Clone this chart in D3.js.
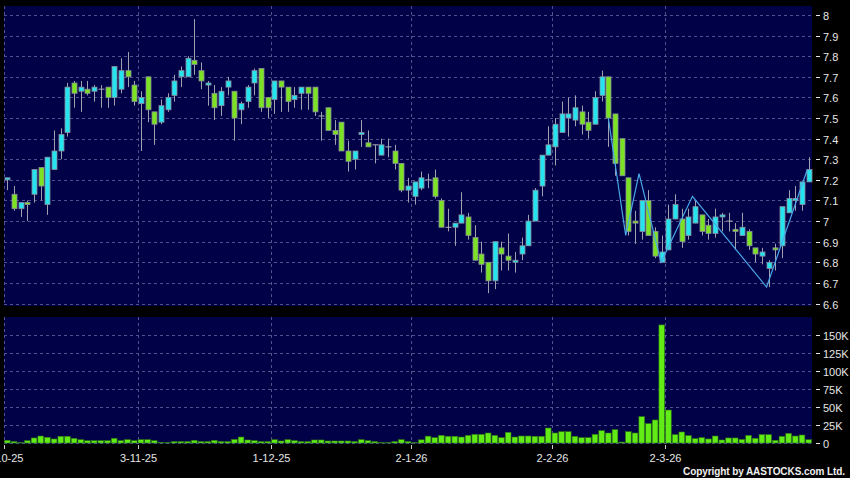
<!DOCTYPE html>
<html>
<head>
<meta charset="utf-8">
<script src="https://cdnjs.cloudflare.com/ajax/libs/d3/7.8.5/d3.min.js"></script>
<style>
  body { margin: 0; background: #000; }
  svg { display: block; }
</style>
</head>
<body>
<svg id="chart" width="850" height="478"></svg>
<script>
// daily candles, index 0 = first trading day shown
const opens = [7.20,7.13,7.06,7.09,7.13,7.26,7.08,7.25,7.34,7.43, 7.67,7.63,7.64,7.63,7.64,7.65,7.60,7.64,7.73,7.66,
  7.57,7.70,7.53,7.48,7.54,7.61,7.70,7.70,7.78,7.73, 7.66,7.62,7.56,7.65,7.63,7.54,7.58,7.67,7.74,7.60,
  7.59,7.68,7.65,7.59,7.62,7.65,7.65,7.51,7.55,7.44, 7.48,7.34,7.30,7.42,7.38,7.37,7.32,7.36,7.34,7.28,
  7.15,7.12,7.16,7.20,7.21,7.10,6.97,6.97,6.99,7.02, 6.92,6.84,6.80,6.71,6.87,6.83,6.80,6.84,6.88,7.00,
  7.17,7.32,7.36,7.43,7.50,7.49,7.53,7.48,7.47,7.61, 7.70,7.52,7.40,7.21,7.00,6.95,7.10,6.95,6.80,6.86,
  7.01,7.01,6.93,6.99,7.03,6.98,6.94,7.02,7.00,6.96, 6.93,6.95,6.87,6.83,6.77,6.87,6.88,7.04,7.10,7.08,
  7.19]
const highs = [7.21,7.17,7.09,7.10,7.25,7.26,7.31,7.44,7.45,7.67, 7.68,7.68,7.68,7.66,7.66,7.65,7.75,7.79,7.82,7.68,
  7.63,7.70,7.53,7.59,7.62,7.71,7.75,7.80,7.98,7.77, 7.68,7.66,7.65,7.70,7.63,7.58,7.66,7.74,7.74,7.60,
  7.68,7.68,7.65,7.65,7.65,7.65,7.65,7.53,7.55,7.49, 7.48,7.39,7.34,7.49,7.44,7.37,7.40,7.40,7.37,7.28,
  7.21,7.19,7.24,7.23,7.25,7.11,7.06,6.99,7.14,7.04, 6.98,6.90,6.80,6.90,6.90,6.94,6.85,6.92,7.03,7.16,
  7.32,7.46,7.50,7.58,7.60,7.61,7.56,7.53,7.63,7.73, 7.70,7.52,7.40,7.21,7.05,7.10,7.15,6.97,6.93,7.08,
  7.13,7.06,7.06,7.10,7.03,7.01,7.06,7.04,7.04,6.99, 7.04,6.96,6.87,6.87,6.81,6.89,7.07,7.15,7.17,7.19,
  7.31]
const lows = [7.15,7.05,7.02,7.00,7.09,7.10,7.03,7.25,7.30,7.41, 7.55,7.53,7.61,7.58,7.55,7.55,7.56,7.62,7.65,7.56,
  7.34,7.48,7.37,7.47,7.53,7.58,7.65,7.70,7.71,7.64, 7.56,7.49,7.51,7.61,7.39,7.47,7.55,7.61,7.53,7.50,
  7.52,7.53,7.53,7.55,7.54,7.54,7.51,7.39,7.44,7.37, 7.34,7.24,7.25,7.36,7.36,7.28,7.32,7.31,7.25,7.14,
  7.09,7.08,7.15,7.16,7.11,6.97,6.95,6.88,6.99,6.91, 6.81,6.75,6.65,6.67,6.76,6.76,6.75,6.81,6.88,7.00,
  7.12,7.32,7.27,7.43,7.41,7.46,7.42,7.40,7.47,7.58, 7.36,7.22,7.22,6.93,6.89,6.91,6.93,6.82,6.80,6.86,
  7.01,6.87,6.91,6.99,6.93,6.91,6.92,6.95,6.95,6.86, 6.93,6.86,6.80,6.79,6.68,6.76,6.82,7.04,7.05,7.05,
  7.19]
const closes = [7.21,7.06,7.09,7.08,7.25,7.17,7.31,7.34,7.42,7.65, 7.62,7.65,7.62,7.65,7.64,7.60,7.75,7.73,7.70,7.58,
  7.60,7.54,7.47,7.56,7.60,7.68,7.73,7.79,7.76,7.68, 7.67,7.55,7.63,7.68,7.50,7.57,7.65,7.73,7.55,7.55,
  7.68,7.65,7.58,7.61,7.65,7.62,7.53,7.51,7.44,7.42, 7.34,7.29,7.34,7.43,7.36,7.37,7.37,7.36,7.28,7.15,
  7.17,7.19,7.21,7.20,7.12,6.97,6.97,6.99,7.03,6.93, 6.81,6.79,6.71,6.90,6.84,6.81,6.81,6.88,7.00,7.15,
  7.32,7.37,7.47,7.52,7.52,7.55,7.47,7.44,7.60,7.70, 7.50,7.28,7.22,6.95,6.99,7.10,6.93,6.83,6.85,7.01,
  7.08,6.90,7.02,7.07,6.95,6.94,7.02,7.03,7.00,6.95, 6.97,6.88,6.84,6.85,6.80,6.86,7.07,7.11,7.11,7.19,
  7.25]
// volume in thousands
const volumes = [3.7,2,0.5,3.2,7,9.7,7.9,5.6,9.3,9.3, 6.5,4.6,3.2,3.2,3.2,3.2,6.5,3.2,4.6,3.2,
  4.6,4.6,3.2,1,0.5,2,2,2,3.7,2, 2,3.7,2,2,5,8.3,4.2,3.2,2,2,
  4.6,2.8,4.6,3.2,2,2,4.2,4.2,2.8,2.8, 2.8,2.8,2,4.6,3.2,2,0.5,0.5,2,4.6,
  2,0.5,4.4,9.5,7.4,10.6,9.3,9.3,8.3,10.6, 12,12,13.9,10.6,7.4,14.8,8.3,9.7,9.7,9.3,
  9.3,20.8,13.9,15.7,15.7,9.3,7.4,7.4,12,17.1, 13.9,18.5,1.4,15.7,13.9,36.6,26.9,32,164,45.8,
  11.6,15.3,10.2,6,7.4,5.6,9.7,4.2,7,7, 5,10.6,6.5,11.6,11.6,3.7,9.3,13.4,9.7,11.1,
  4.6]

const dateLabels = ["2-10-25", "3-11-25", "1-12-25", "2-1-26", "2-2-26", "2-3-26"]
const dateIdx = [0, 20, 40, 61, 82, 99]
const priceTicks = [6.6, 6.7, 6.8, 6.9, 7, 7.1, 7.2, 7.3, 7.4, 7.5, 7.6, 7.7, 7.8, 7.9, 8]
const volTicks = [0, 25, 50, 75, 100, 125, 150]
// thin blue zig-zag line (candle index, price)
const zigIdx = [90, 92.6, 94.6, 97.9, 102.6, 113.7, 119.8]
const zigVal = [7.50, 6.93, 7.23, 6.80, 7.12, 6.68, 7.25]

const UP = "#25e3ef", DOWN = "#7be324", BG = "#010148", GRID = "#50508a"
const svg = d3.select("#chart")
const n = closes.length
const left = 4, right = 812
const top1 = 6, bot1 = 306, top2 = 317, bot2 = 444

const x = d3.scaleBand().domain(d3.range(n)).range([left, right]).padding(0)
const xc = d3.scaleLinear().domain([-0.5, n - 0.5]).range([left, right])
const y = d3.scaleLinear().domain([6.6, 8]).range([303.5, 15])
const yv = d3.scaleLinear().domain([0, 150]).range([443, 335])

svg.append("rect").attr("width", 850).attr("height", 478).attr("fill", "#000")
svg.append("rect").attr("x", left).attr("y", top1).attr("width", right - left).attr("height", bot1 - top1).attr("fill", BG)
svg.append("rect").attr("x", left).attr("y", top2).attr("width", right - left).attr("height", bot2 - top2).attr("fill", BG)

function grid(g, ys, y0, y1) {
    ys.forEach(v => {
        g.append("line").attr("x1", left).attr("x2", right).attr("y1", v).attr("y2", v)
            .attr("stroke", GRID).attr("stroke-dasharray", "3,3").attr("stroke-width", 1)
    })
    dateIdx.forEach(i => {
        const gx = Math.round(xc(i - 0.5)) + 0.5
        g.append("line").attr("x1", gx).attr("x2", gx).attr("y1", y0).attr("y2", y1)
            .attr("stroke", GRID).attr("stroke-dasharray", "3,3")
    })
}
grid(svg.append("g"), priceTicks.map(v => Math.round(y(v)) + 0.5), top1, bot1)
grid(svg.append("g"), volTicks.map(v => Math.round(yv(v)) + 0.5), top2, bot2)

// candles
const cw = 5
const candles = svg.append("g")
d3.range(n).forEach(i => {
    const cx = Math.round(xc(i)) + 0.5
    candles.append("line").attr("x1", cx).attr("x2", cx)
        .attr("y1", y(highs[i])).attr("y2", y(lows[i]))
        .attr("stroke", "#a0a0b0").attr("stroke-width", 1)
    const o = opens[i], c = closes[i]
    if (o === c) {
        candles.append("line").attr("x1", cx - 3).attr("x2", cx + 3)
            .attr("y1", y(o)).attr("y2", y(o)).attr("stroke", "#b0b0b8")
    } else {
        const t = y(Math.max(o, c)), b = y(Math.min(o, c))
        candles.append("rect").attr("x", cx - cw / 2).attr("y", t)
            .attr("width", cw).attr("height", Math.max(1.5, b - t))
            .attr("fill", c > o ? UP : DOWN).attr("stroke", "#8a8a9a").attr("stroke-width", 0.8)
    }
})

// zig-zag line
svg.append("path")
    .attr("d", d3.line().x((d, k) => xc(zigIdx[k])).y(d => y(d))(zigVal))
    .attr("fill", "none").attr("stroke", "#4aa8e8").attr("stroke-width", 1.2)

// volume bars
svg.append("g").selectAll("rect").data(volumes).join("rect")
    .attr("x", (d, i) => x(i) + 0.5)
    .attr("y", d => yv(d))
    .attr("width", x.bandwidth() - 1)
    .attr("height", d => yv(0) - yv(d))
    .attr("fill", "#62ec16").attr("stroke", "#2f7a12").attr("stroke-width", 0.6)

// right axes
const txt = "#e6e6e6"
function rightAxis(ticks, sc, fmt) {
    const g = svg.append("g")
    ticks.forEach(v => {
        const ty = Math.round(sc(v)) + 0.5
        g.append("line").attr("x1", 816).attr("x2", 820).attr("y1", ty).attr("y2", ty).attr("stroke", txt)
        g.append("text").attr("x", 823).attr("y", ty + 4).attr("fill", txt)
            .attr("font-family", "Liberation Sans, Arial, sans-serif").attr("font-size", 11).text(fmt(v))
    })
}
rightAxis(priceTicks, y, v => String(+v.toFixed(1)))
rightAxis(volTicks, yv, v => v === 0 ? "0" : v + "K")

// date axis (first label is cut by the left edge, as in the source chart)
const dg = svg.append("g")
dateIdx.forEach((i, k) => {
    const gx = Math.round(xc(i - 0.5)) + 0.5
    dg.append("line").attr("x1", gx).attr("x2", gx).attr("y1", 445).attr("y2", 449).attr("stroke", "#ccc")
    dg.append("text").attr("x", gx).attr("y", 462).attr("text-anchor", "middle").attr("fill", txt)
        .attr("font-family", "Liberation Sans, Arial, sans-serif").attr("font-size", 11).text(dateLabels[k])
})

svg.append("text").attr("x", 683).attr("y", 475).attr("fill", "#f0f0f0")
    .attr("font-family", "Liberation Sans, Arial, sans-serif").attr("font-size", 10).attr("font-weight", "bold")
    .attr("textLength", 162).attr("lengthAdjust", "spacing").text("Copyright by AASTOCKS.com Ltd.")
</script>
</body>
</html>
